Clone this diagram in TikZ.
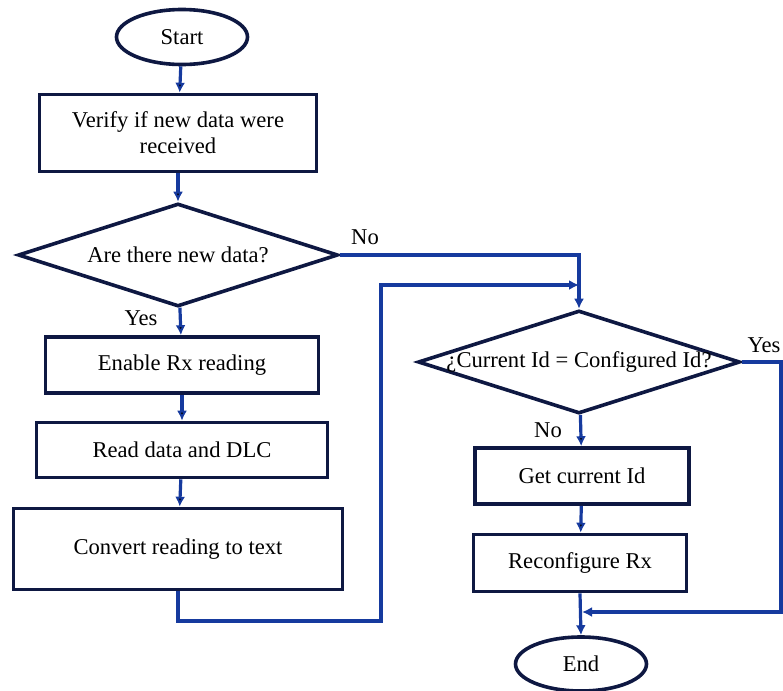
\documentclass[tikz,border=0pt]{standalone}
\usepackage{fontspec}
\setmainfont{Liberation Serif}
\usepackage{tikz}
\usetikzlibrary{shapes, arrows, calc, arrows.meta, positioning, shapes.geometric}
\definecolor{linkblue}{RGB}{22,58,158}
\definecolor{boxnavy}{RGB}{14,24,66}
\tikzset{
    -{Latex[length=5pt,width=5pt]}, semithick,
    block/.style ={rectangle, draw=boxnavy, line width=1.8pt, inner sep=0pt, align=center},
    decision/.style ={diamond, draw=boxnavy, line width=1.8pt, inner sep=0pt, aspect=3.1},
    terminal/.style ={ellipse, draw=boxnavy, line width=1.8pt, inner sep=0pt},
    link/.style = {draw=linkblue, line width=1.6pt},
    tag/.style = {inner sep=0pt}
    }

\begin{document}
\begin{tikzpicture}[
      x=0.5pt, y=-0.5pt, % pixel grid of the drawing
      font=\fontsize{11.3}{13}\selectfont
    ]
    \useasboundingbox (0,0) rectangle (783,691);

    % left column
    \node[terminal, minimum width=65.5pt, minimum height=27.5pt] (start) at (182,37) {Start};
    \node[block, minimum width=138.5pt, minimum height=38.5pt] (verify) at (178,133) {Verify if new data were\\received};
    \node[decision, minimum width=160pt, minimum height=51.5pt] (newdata) at (178,255) {Are there new data?};
    \node[block, minimum width=136.5pt, minimum height=28pt] (enable) at (182,365) {Enable Rx reading};
    \node[block, minimum width=145.5pt, minimum height=27.5pt] (read) at (182,450) {Read data and DLC};
    \node[block, minimum width=164.5pt, minimum height=40.5pt] (convert) at (178,549) {Convert reading to text};

    % right column
    \node[decision, inner xsep=-10pt, minimum width=161pt, minimum height=51.5pt] (sameid) at (579,362) {¿Current Id = Configured Id?};
    \node[block, minimum width=107pt, minimum height=28pt] (getid) at (582,476) {Get current Id};
    \node[block, minimum width=106.5pt, minimum height=28.5pt] (reconf) at (580,563) {Reconfigure Rx};
    \node[terminal, minimum width=65.5pt, minimum height=27pt] (end) at (581,664) {End};

    % labels
    \node[tag] (yes1) at (141,318) {Yes};
    \node[tag] (no1) at (365,237) {No};
    \node[tag] (no2) at (548,430) {No};
    \node[tag] (yes2) at (764,345) {Yes};

    % joints
    \coordinate (j0) at (579,255);
    \coordinate (j1) at (579,285);
    \coordinate (lp) at (381,621);
    \coordinate (j2) at (781,612);
    \coordinate (j3) at (582,612);

    \path[link] (start) edge (verify);
    \path[link] (verify) edge (newdata);
    \path[link] (newdata) edge (enable);
    \path[link] (enable) edge (read);
    \path[link] (read) edge (convert);

    \draw[link] (newdata.east) -- (j0) -- (sameid.north);
    \draw[link] (convert.south) |- (lp) |- (j1);

    \path[link] (sameid) edge (getid);
    \path[link] (getid) edge (reconf);
    \draw[link] (reconf.south) -- (end.north);
    \draw[link] (sameid.east) -| (j2) -- (j3);
\end{tikzpicture}
\end{document}
